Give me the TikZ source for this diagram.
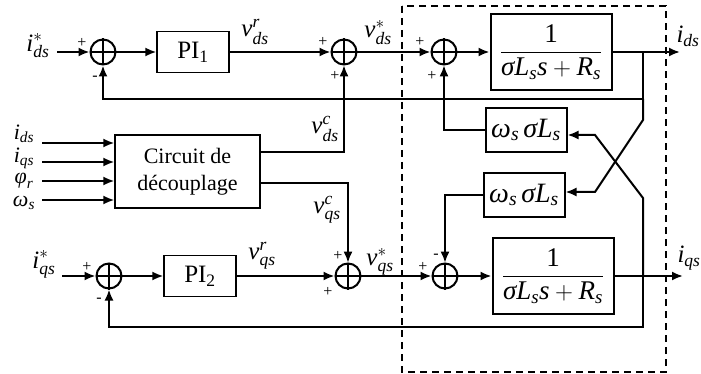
\documentclass[tikz,border=0pt]{standalone}
\usepackage{amsmath}
\usepackage{fontspec}
\setmainfont{Liberation Serif}
\usetikzlibrary{arrows.meta}

\newcommand{\vi}[1]{\textit{#1}}

\tikzset{
  sumnode/.style={circle, draw, line width=2pt, minimum size=25pt, inner sep=0pt},
  pibox/.style={draw, line width=1.3pt, minimum width=72pt, minimum height=41pt, inner sep=0pt, font=\fontsize{25}{28}\selectfont},
  tfbox/.style={draw, line width=2pt, minimum width=121pt, minimum height=76pt, inner sep=0pt, font=\fontsize{27}{30}\selectfont},
  wbox/.style={draw, line width=2pt, minimum width=81pt, minimum height=44pt, inner sep=0pt, font=\fontsize{28}{30}\selectfont},
  decbox/.style={draw, line width=1.3pt, minimum width=145pt, minimum height=73pt, inner sep=0pt, align=center, font=\fontsize{22}{27}\selectfont},
  sig/.style={inner sep=0pt, font=\fontsize{25}{28}\selectfont},
  insig/.style={inner sep=0pt, font=\fontsize{22}{24}\selectfont},
  sgn/.style={inner sep=0pt, font=\fontsize{16}{18}\selectfont},
  fine/.style={line width=1.3pt}
}

\begin{document}
\begin{tikzpicture}[x=1pt, y=-1pt, line width=2pt, >={Latex[length=11pt,width=9pt]}]
    \useasboundingbox (0,0) rectangle (701,374);

    % La zone en pointilles
    \draw[line width=1.5pt, dash pattern=on 7pt off 5pt] (402,6) rectangle (666,372);

    % Sommateurs
    \node[sumnode] (sd1) at (103,52) {};
    \node[sumnode] (sd2) at (344,52) {};
    \node[sumnode] (sd3) at (444,52) {};
    \node[sumnode] (sq1) at (109,276) {};
    \node[sumnode] (sq2) at (348,276) {};
    \node[sumnode] (sq3) at (445,276) {};
    \foreach \s in {sd1,sd2,sd3,sq1,sq2,sq3}
        \draw[fine] (\s.north) -- (\s.south) (\s.west) -- (\s.east);

    % Blocs
    \node[pibox] (pi1) at (193,52) {PI\textsubscript{1}};
    \node[pibox] (pi2) at (200,276) {PI\textsubscript{2}};
    \node[tfbox] (tf1) at (551,52) {$\dfrac{\text{1}}{\vi{σL}_{\vi{s}}\vi{s}+\vi{R}_{\vi{s}}}$};
    \node[tfbox] (tf2) at (553,276) {$\dfrac{\text{1}}{\vi{σL}_{\vi{s}}\vi{s}+\vi{R}_{\vi{s}}}$};
    \node[wbox] (w1) at (526,130) {$\vi{ω}_{\vi{s}}\,\vi{σL}_{\vi{s}}$};
    \node[wbox] (w2) at (524,195) {$\vi{ω}_{\vi{s}}\,\vi{σL}_{\vi{s}}$};
    \node[decbox] (dec) at (187.5,171.5) {Circuit de\\découplage};

    % Points de passage
    \coordinate (ed) at (57,52);
    \coordinate (eq) at (62,276);
    \coordinate (od) at (680,52);
    \coordinate (oq) at (683,276);
    \coordinate (td) at (643,52);
    \coordinate (tq) at (643,276);
    \coordinate (fd) at (643,99);
    \coordinate (fq) at (643,327);
    \coordinate (kd) at (643,120);
    \coordinate (kq) at (643,198);
    \coordinate (xd) at (595,192);
    \coordinate (xq) at (595,135);

    % Axe d
    \draw[->] (ed) -- (sd1.west);
    \draw[->] (sd1.east) -- (pi1.west);
    \draw[->] (pi1.east) -- (sd2.west);
    \draw[->] (sd2.east) -- (sd3.west);
    \draw[->] (sd3.east) -- (tf1.west);
    \draw[->] (tf1.east) -- (od);
    \draw[->] (td) -- (fd) -| (sd1.south);
    \draw[->] (fd) -- (kd) -- (xd) -- (xd -| w2.east);

    % Axe q
    \draw[->] (eq) -- (sq1.west);
    \draw[->] (sq1.east) -- (pi2.west);
    \draw[->] (pi2.east) -- (sq2.west);
    \draw[->] (sq2.east) -- (sq3.west);
    \draw[->] (sq3.east) -- (tf2.west);
    \draw[->] (tf2.east) -- (oq);
    \draw[->] (tq) -- (fq) -| (sq1.south);
    \draw[->] (tq) -- (kq) -- (xq) -- (xq -| w1.east);

    % Couplages
    \draw[->, fine] (w1.west) -| (sd3.south);
    \draw[->, fine] (w2.west) -| (sq3.north);
    \draw[->, fine] ([yshift=19.5pt]dec.east) -| (sd2.south);
    \draw[->, fine] ([yshift=-11.5pt]dec.east) -| (sq2.north);

    % Entrees du circuit de decouplage
    \foreach \y [count=\k] in {143,162,181,200} {
        \coordinate (a\k) at (42,\y);
        \draw[->] (a\k) -- (a\k -| dec.west);
    }
    \node[insig] (lin1) at (24,134) {$\vi{i}_{\vi{ds}}$};
    \node[insig] (lin2) at (24,158) {$\vi{i}_{\vi{qs}}$};
    \node[insig] (lin3) at (24,181) {$\vi{φ}_{\vi{r}}$};
    \node[insig] (lin4) at (24,203) {$\vi{ω}_{\vi{s}}$};

    % Signaux
    \node[sig] (lidref) at (38,46) {$\vi{i}^{*}_{\vi{ds}}$};
    \node[sig] (liqref) at (44,264) {$\vi{i}^{*}_{\vi{qs}}$};
    \node[sig] (lvdr) at (255,32) {$\vi{v}^{\vi{r}}_{\vi{ds}}$};
    \node[sig] (lvqr) at (262,256) {$\vi{v}^{\vi{r}}_{\vi{qs}}$};
    \node[sig] (lvdc) at (325,129) {$\vi{v}^{\vi{c}}_{\vi{ds}}$};
    \node[sig] (lvqc) at (327,210) {$\vi{v}^{\vi{c}}_{\vi{qs}}$};
    \node[sig] (lvds) at (378,33) {$\vi{v}^{*}_{\vi{ds}}$};
    \node[sig] (lvqs) at (380,262) {$\vi{v}^{*}_{\vi{qs}}$};
    \node[sig] (lids) at (688,36) {$\vi{i}_{\vi{ds}}$};
    \node[sig] (liqs) at (689,258) {$\vi{i}_{\vi{qs}}$};

    % Signes des sommateurs
    \node[sgn] (g1) at (82,43) {+};
    \node[sgn] (g2) at (95,78) {-};
    \node[sgn] (g3) at (323,42) {+};
    \node[sgn] (g4) at (335,76) {+};
    \node[sgn] (g5) at (420,42) {+};
    \node[sgn] (g6) at (432,76) {+};
    \node[sgn] (g7) at (87,267) {+};
    \node[sgn] (g8) at (99,300) {-};
    \node[sgn] (g9) at (338,256) {+};
    \node[sgn] (g10) at (328,292) {+};
    \node[sgn] (g11) at (423,267) {+};
    \node[sgn] (g12) at (436,256) {-};
\end{tikzpicture}
\end{document}
